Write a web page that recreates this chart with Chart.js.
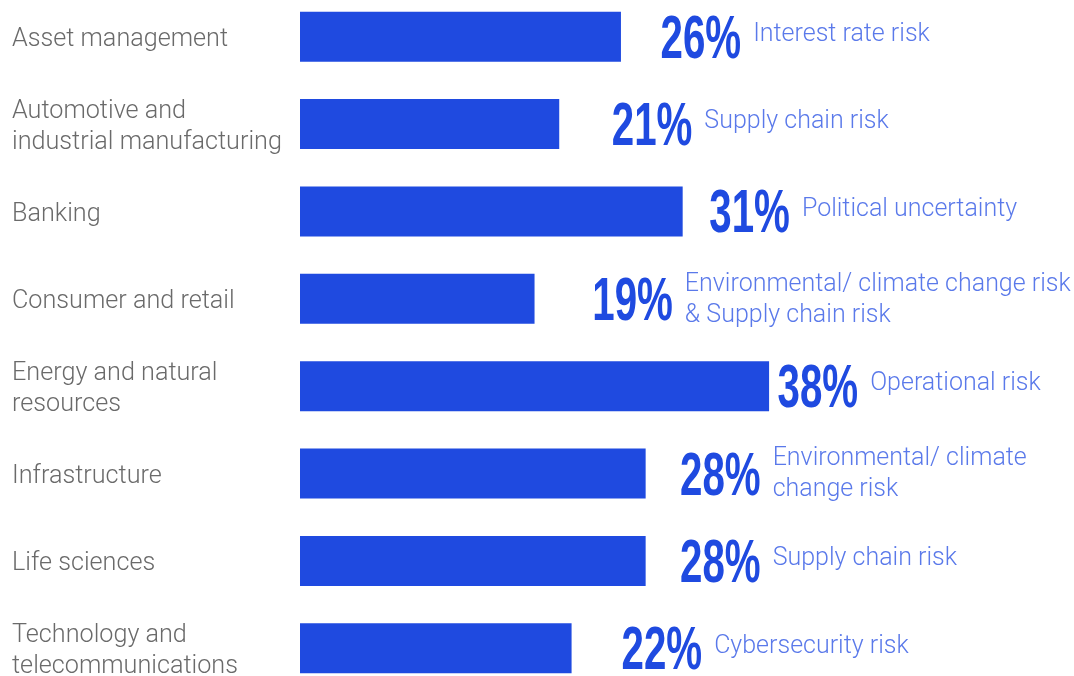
<!DOCTYPE html>
<html>
<head>
<meta charset="utf-8">
<script src="https://cdn.jsdelivr.net/npm/chart.js@4/dist/chart.umd.min.js"></script>
<style>
    html, body { margin: 0; padding: 0; background: #ffffff; overflow: hidden; }
    .chart-container { position: absolute; left: 0; top: -7px; width: 1074px; height: 699px; }
</style>
</head>
<body>
<div class="chart-container">
    <canvas id="myChart" width="1074" height="699"></canvas>
</div>
<script>
var sectors = [
    "Asset management",
    ["Automotive and", "industrial manufacturing"],
    "Banking",
    "Consumer and retail",
    ["Energy and natural", "resources"],
    "Infrastructure",
    "Life sciences",
    ["Technology and", "telecommunications"]
]
var shares = [26, 21, 31, 19, 38, 28, 28, 22]
var topRisks = [
    ["Interest rate risk"],
    ["Supply chain risk"],
    ["Political uncertainty"],
    ["Environmental/ climate change risk", "& Supply chain risk"],
    ["Operational risk"],
    ["Environmental/ climate", "change risk"],
    ["Supply chain risk"],
    ["Cybersecurity risk"]
]

const barColor = '#1f4ae0'
const riskColor = '#5a79ea'
const sectorColor = '#6a6a6a'

// draws the big percentage next to each bar and the risk name after it
const valueLabels = {
    id: 'valueLabels',
    afterDatasetsDraw(chart) {
        const ctx = chart.ctx
        const xScale = chart.scales.x
        const meta = chart.getDatasetMeta(0)
        const squeeze = 0.66
        for (let i = 0; i < shares.length; i++) {
            const bar = meta.data[i]
            const y = bar.y
            const text = shares[i] + '%'
            let x = xScale.getPixelForValue(shares[i] * 0.79) + 107

            ctx.save()
            ctx.font = 'bold 61px "Liberation Sans", Arial, sans-serif'
            ctx.fillStyle = barColor
            ctx.textBaseline = 'alphabetic'
            ctx.translate(x, y + 21)
            ctx.scale(squeeze, 1)
            ctx.fillText(text, 0, 0)
            const w = ctx.measureText(text).width * squeeze
            ctx.restore()

            ctx.save()
            ctx.font = '300 25px Roboto, sans-serif'
            ctx.fillStyle = riskColor
            ctx.textBaseline = 'middle'
            const lines = topRisks[i]
            const lh = 31
            let startY = y - 2 - (lines.length - 1) * lh / 2
            if (lines.length > 1) startY = y + 1 - (lines.length - 1) * lh / 2
            for (let j = 0; j < lines.length; j++) {
                ctx.fillText(lines[j], x + w + 12, startY + j * lh)
            }
            ctx.restore()
        }
    }
}

const chartConfig = {
    type: 'bar',
    data: {
        labels: sectors,
        datasets: [{
            data: shares,
            backgroundColor: barColor,
            borderWidth: 0,
            categoryPercentage: 1,
            barPercentage: 0.572
        }]
    },
    options: {
        indexAxis: 'y',
        responsive: false,
        animation: false,
        layout: { padding: { left: 12, right: 0, top: 0, bottom: 0 } },
        plugins: {
            legend: { display: false },
            tooltip: { enabled: false }
        },
        scales: {
            x: {
                display: false,
                min: 0,
                max: 62.7
            },
            y: {
                grid: { display: false },
                border: { display: false },
                afterFit(scale) {
                    scale.width = 288
                    scale.paddingTop = 0
                    scale.paddingBottom = 0
                },
                ticks: {
                    crossAlign: 'far',
                    color: sectorColor,
                    padding: 0,
                    labelOffset: 3,
                    font: { family: 'Roboto, sans-serif', size: 25.2, weight: 300, lineHeight: 1.24 }
                }
            }
        }
    },
    plugins: [valueLabels]
}

const canvas = document.getElementById('myChart').getContext('2d')
new Chart(canvas, chartConfig)
</script>
</body>
</html>
